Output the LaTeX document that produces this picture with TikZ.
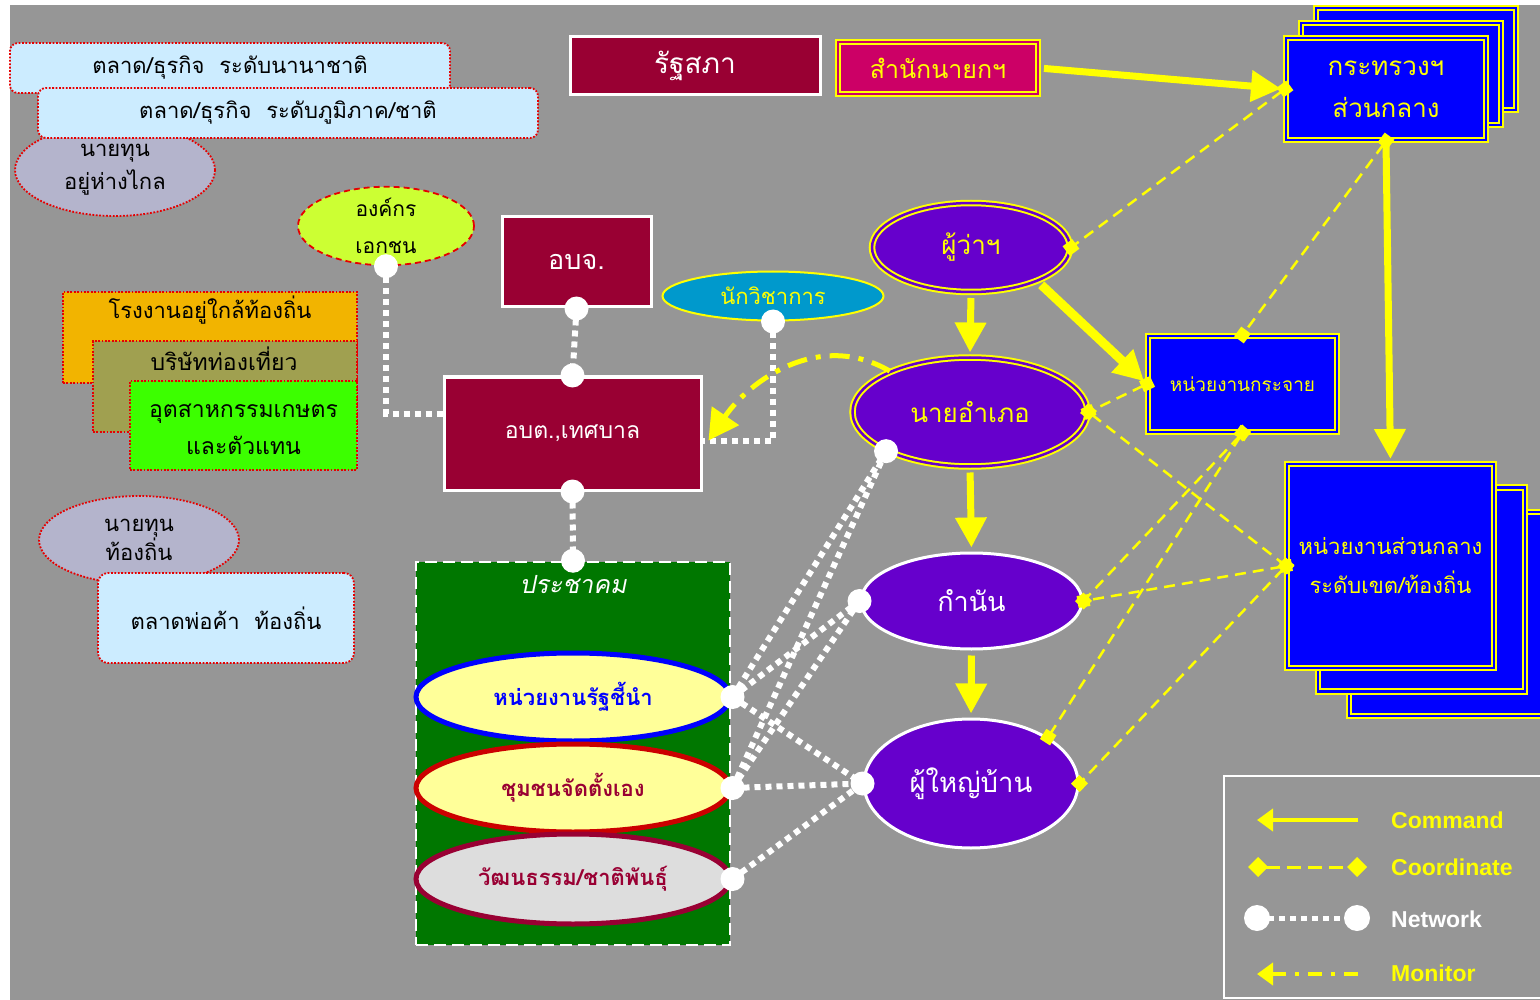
\documentclass[tikz,border=0pt]{standalone}
\usepackage{fontspec}
\setmainfont{Liberation Sans}
\newfontfamily\thai[Script=Thai]{Loma}
\newfontfamily\thaisl[Script=Thai,FakeSlant=0.2]{Loma}
\usetikzlibrary{shapes.geometric,arrows.meta}
\definecolor{bg}{RGB}{150,150,150}
\definecolor{skyb}{RGB}{204,236,255}
\definecolor{lav}{RGB}{180,180,204}
\definecolor{redline}{RGB}{230,0,0}
\definecolor{ngoc}{RGB}{204,255,51}
\definecolor{maroon}{RGB}{153,0,51}
\definecolor{pmoc}{RGB}{204,0,102}
\definecolor{yel}{RGB}{255,255,0}
\definecolor{blu}{RGB}{0,0,255}
\definecolor{purp}{RGB}{102,0,204}
\definecolor{acadc}{RGB}{0,153,204}
\definecolor{civg}{RGB}{0,119,0}
\definecolor{pale}{RGB}{255,255,153}
\definecolor{lgrey}{RGB}{221,221,221}
\definecolor{orng}{RGB}{242,180,0}
\definecolor{olv}{RGB}{160,160,80}
\definecolor{agrog}{RGB}{60,255,0}
\definecolor{crim}{RGB}{204,0,0}

\begin{document}
\begin{tikzpicture}[x=1pt,y=-1pt,
  every node/.style={inner sep=0pt,align=center},
  fs/.style 2 args={font=\thai\fontsize{#1}{#2}\selectfont},
  fsb/.style 2 args={font=\thai\bfseries\fontsize{#1}{#2}\selectfont},
  reddot/.style={draw=redline,line width=1.8pt,dash pattern=on 1.8pt off 1.6pt},
  pill/.style={reddot,fill=skyb,rounded corners=8pt},
  oval/.style={ellipse,reddot,fill=lav},
  patch/.style={rectangle,reddot,fill=#1},
  wbox/.style={rectangle,draw=white,line width=3pt,fill=maroon,text=white},
  ybox/.style={rectangle,draw=yel,double=#1,double distance=2.5pt,line width=2pt,fill=#1,text=yel},
  yoval/.style={ellipse,draw=yel,double=purp,double distance=2.5pt,line width=2pt,fill=purp,text=yel},
  woval/.style={ellipse,draw=white,line width=3pt,fill=purp,text=white},
  civ/.style={ellipse,line width=5pt,minimum width=314pt,minimum height=88pt,fsb={22}{28}},
  cmd/.style={draw=yel,line width=7pt,-{Triangle[length=30pt,width=30pt]},shorten <=5pt,shorten >=4pt},
  coord/.style={draw=yel,line width=2.5pt,dash pattern=on 11pt off 7pt,{Square[length=12pt,width=12pt]}-{Square[length=12pt,width=12pt]},shorten <=-6pt,shorten >=-6pt},
  net/.style={draw=white,line width=6pt,dash pattern=on 6pt off 5pt},
  mon/.style={draw=yel,line width=5pt,dash pattern=on 20pt off 9pt on 5pt off 9pt,-{Triangle[length=30pt,width=32pt]}},
  legtxt/.style={anchor=west,font=\bfseries\fontsize{23}{28}\selectfont,text=yel}]
\useasboundingbox (0,0) rectangle (1540,1000);
\clip (0,0) rectangle (1540,1000);
\fill[white] (0,0) rectangle (1540,1000);
\fill[bg] (10,5) rectangle (1540,1000);

\node[oval,minimum width=200pt,minimum height=92pt,fs={22}{33}] (capfar) at (115,170) {นายทุน\\อยู่ห่างไกล};
\node[pill,minimum width=440pt,minimum height=50pt,fs={22}{30}] (mkint) at (230,68) {ตลาด/ธุรกิจ\ \ ระดับนานาชาติ};
\node[pill,minimum width=500pt,minimum height=50pt,fs={22}{30}] (mkreg) at (288,113) {ตลาด/ธุรกิจ\ \ ระดับภูมิภาค/ชาติ};
\node[ellipse,draw=redline,line width=1.8pt,dash pattern=on 6pt off 4pt,fill=ngoc,minimum width=176pt,minimum height=78pt,fs={21}{37}] (ngo) at (386,226) {องค์กร\\เอกชน};

\node[patch=orng,minimum width=294pt,minimum height=91pt] (fac) at (210,337.5) {};
\node[patch=olv,minimum width=264pt,minimum height=91pt] (tour) at (225,386.5) {};
\node[patch=agrog,minimum width=227pt,minimum height=89pt] (agro) at (243.5,425.5) {};
\node[fs={22}{30}] (factxt) at (210,310) {โรงงานอยู่ใกล้ท้องถิ่น};
\node[fs={23}{30}] (tourtxt) at (224,359) {บริษัทท่องเที่ยว};
\node[fs={23}{37}] (agrotxt) at (243.5,429) {อุตสาหกรรมเกษตร\\และตัวแทน};
\node[oval,minimum width=200pt,minimum height=88pt,fs={22}{28}] (capl) at (139,540) {นายทุน\\ท้องถิ่น};
\node[pill,rounded corners=10pt,minimum width=256pt,minimum height=90pt,fs={22}{30}] (mkl) at (226,618) {ตลาดพ่อค้า\ \ ท้องถิ่น};

\node[wbox,minimum width=250pt,minimum height=58pt,fs={28}{34}] (parl) at (695,66) {รัฐสภา};
\node[ybox=pmoc,minimum width=200pt,minimum height=52pt,fs={25}{30}] (pmo) at (938,68) {สำนักนายกฯ};
\foreach \i in {2,1}
  \node[ybox=blu,minimum width=200pt,minimum height=102pt] (min\i) at ({1386+15*\i},{89-15*\i}) {};
\node[ybox=blu,minimum width=200pt,minimum height=102pt,fs={26}{42}] (min) at (1386,89) {กระทรวงฯ\\ส่วนกลาง};

\node[yoval,minimum width=198pt,minimum height=89pt,fs={26}{34}] (gov) at (971,247.5) {ผู้ว่าฯ};
\node[ellipse,draw=yel,line width=2pt,fill=acadc,text=yel,minimum width=221pt,minimum height=49pt,fs={22}{30}] (acad) at (773,296) {นักวิชาการ};
\node[wbox,minimum width=149pt,minimum height=90pt,fs={27}{30}] (pao) at (576.5,262) {อบจ.};
\node[wbox,minimum width=257pt,minimum height=113pt,fs={23}{30}] (tao) at (572.5,433.5) {อบต.,เทศบาล};
\node[yoval,minimum width=235pt,minimum height=109pt,fs={26}{34}] (dist) at (970,412) {นายอำเภอ};
\node[ybox=blu,minimum width=189pt,minimum height=96pt,fs={19}{24}] (dec) at (1242.5,384) {หน่วยงานกระจาย};
\foreach \i in {2,1}
  \node[ybox=blu,minimum width=207pt,minimum height=204pt] (reg\i) at ({1390.5+31*\i},{565+24.5*\i}) {};
\node[ybox=blu,minimum width=207pt,minimum height=204pt,fs={22}{39}] (reg) at (1390.5,566) {หน่วยงานส่วนกลาง\\ระดับเขต/ท้องถิ่น};
\node[woval,minimum width=221pt,minimum height=96pt,fs={27}{34}] (kam) at (971.5,601) {กำนัน};
\node[woval,minimum width=214pt,minimum height=129pt,fs={27.5}{36}] (vil) at (971,783.5) {ผู้ใหญ่บ้าน};

\node[draw=white,line width=2.5pt,dash pattern=on 12pt off 6pt,fill=civg,minimum width=314pt,minimum height=383pt] (com) at (573,753.5) {};
\node[font=\thaisl\fontsize{25}{30}\selectfont,text=white] (comtxt) at (573,585) {ประชาคม};
\node[civ,draw=blu,fill=pale,text=blu] (st) at (573,697) {หน่วยงานรัฐชี้นำ};
\node[civ,draw=crim,fill=pale,text=maroon] (self) at (573,788) {ชุมชนจัดตั้งเอง};
\node[civ,draw=maroon,fill=lgrey,text=maroon,minimum height=90pt] (cult) at (573,879) {วัฒนธรรม/ชาติพันธุ์};

\draw[cmd] (pmo.east) -- (min.west);
\draw[cmd] (gov.south) -- (dist.north);
\draw[cmd,line width=9pt] (gov.-27) -- (dec.west);
\draw[cmd] (min.south) -- (reg.north);
\draw[cmd] (dist.south) -- (kam.north);
\draw[cmd] (kam.south) -- (vil.north);

\draw[coord] (min.west) -- (gov.east);
\draw[coord] (min.south) -- (dec.north);
\draw[coord] (dec.west) -- (dist.east);
\draw[coord] (dist.east) -- (reg.west);
\draw[coord] (dec.south) -- (kam.east);
\draw[coord] (dec.south) -- (vil.31);
\draw[coord] (reg.west) -- (kam.east);
\draw[coord] (reg.west) -- (vil.east);

\draw[net] (ngo.south) |- ([yshift=20pt]tao.west);
\draw[net] (pao.south) -- (tao.north);
\draw[net] (acad.south) |- ([yshift=-7pt]tao.east);
\draw[net] (tao.south) -- (com.north);
\foreach \a in {st,self}
  \foreach \b in {dist.205,kam.west,vil.west}
    \draw[net] (\a.east) -- (\b);
\draw[net] (cult.east) -- (vil.west);
\foreach \p in {ngo.south,pao.south,tao.north,acad.south,tao.south,com.north,st.east,self.east,cult.east,dist.205,kam.west,vil.west}
  \fill[white] (\p) circle (12pt);

\draw[mon] (dist.153) .. controls (820,330) and (750,380) .. ([xshift=6pt,yshift=-7pt]tao.east);

\draw[white,line width=2pt] (1224,776) rectangle (1560,998);
\node[legtxt] (lcmd) at (1391,820) {Command};
\node[legtxt] (lcoo) at (1391,867) {Coordinate};
\node[legtxt,text=white] (lnet) at (1391,919) {Network};
\node[legtxt] (lmon) at (1391,973) {Monitor};
\coordinate (cmdA) at (1358,820);
\coordinate (cmdB) at (1257,820);
\draw[yel,line width=4pt,-{Triangle[length=16pt,width=22pt]}] (cmdA) -- (cmdB);
\coordinate (cooA) at (1258,867);
\coordinate (cooB) at (1357,867);
\draw[yel,line width=3pt,dash pattern=on 14pt off 7pt,{Diamond[length=20pt,width=20pt]}-{Diamond[length=20pt,width=20pt]},shorten <=-10pt,shorten >=-10pt] (cooA) -- (cooB);
\coordinate (netA) at (1257,918);
\coordinate (netB) at (1357,918);
\draw[net,line width=5pt] (netA) -- (netB);
\fill[white] (netA) circle (13pt) (netB) circle (13pt);
\coordinate (monA) at (1358,974);
\coordinate (monB) at (1257,974);
\draw[mon,line width=4pt,dash pattern=on 14pt off 9pt on 4pt off 9pt,-{Triangle[length=16pt,width=22pt]}] (monA) -- (monB);
\end{tikzpicture}
\end{document}
